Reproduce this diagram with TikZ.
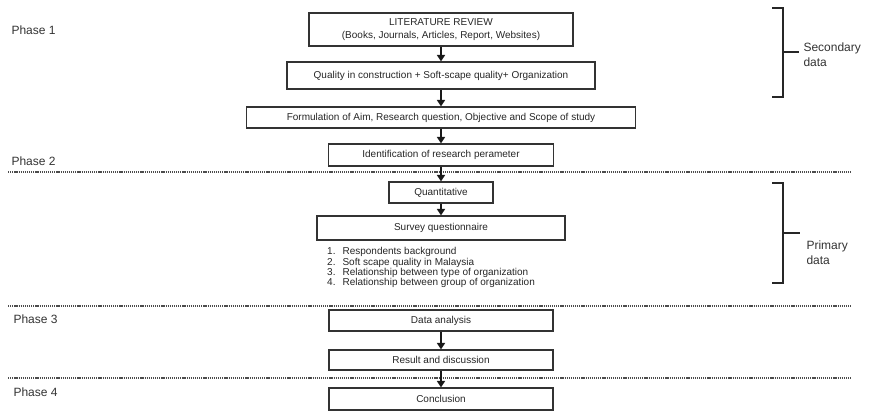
\documentclass[tikz,border=0pt]{standalone}
\usepackage{fontspec}
\setmainfont{Liberation Sans}
\usetikzlibrary{arrows.meta}

\begin{document}
\begin{tikzpicture}[x=1pt,y=-1pt,
    box/.style={draw=black!80, line width=1.2pt, inner sep=0pt, text=black!85,
      font=\fontsize{10}{13}\selectfont, align=center},
    flow/.style={-{Triangle[width=8pt,length=6.5pt]}, line width=1.8pt, black!90},
    phaseline/.style={line width=1.2pt, black!70, dash pattern=on 1.2pt off 0.9pt},
    phase/.style={anchor=west, text=black!80, font=\fontsize{12}{14}\selectfont},
    side/.style={anchor=west, text=black!80, align=left, font=\fontsize{12}{15}\selectfont},
    brace/.style={line width=1.2pt, black!85},
    item/.style={anchor=west, text=black!85, inner sep=0pt, font=\fontsize{10}{12}\selectfont}]
  \useasboundingbox (0,0) rectangle (870,414);

  % phase labels and separators
  \node[phase] (phase1) at (8,30) {Phase 1};
  \node[phase] (phase2) at (8,161) {Phase 2};
  \node[phase] (phase3) at (10,319) {Phase 3};
  \node[phase] (phase4) at (10,392) {Phase 4};
  \draw[phaseline] (8,172) -- (852,172);
  \draw[phaseline] (8,306) -- (852,306);
  \draw[phaseline] (8,378) -- (852,378);

  % boxes
  \node[box, minimum width=264pt, minimum height=33pt] (litreview) at (441,29.5)
    {LITERATURE REVIEW\\(Books, Journals, Articles, Report, Websites)};
  \node[box, minimum width=308pt, minimum height=27pt] (quality) at (441,75.5)
    {Quality in construction + Soft-scape quality+ Organization};
  \node[box, minimum width=389pt, minimum height=21pt] (formulation) at (441,117.5)
    {Formulation of Aim, Research question, Objective and Scope of study};
  \node[box, minimum width=225pt, minimum height=22pt] (ident) at (441,155)
    {Identification of research perameter};
  \node[box, minimum width=104pt, minimum height=21pt] (quant) at (441,192.5)
    {Quantitative};
  \node[box, minimum width=248pt, minimum height=24pt] (survey) at (441,228)
    {Survey questionnaire};
  \node[box, minimum width=224pt, minimum height=21pt] (analysis) at (441,320.5)
    {Data analysis};
  \node[box, minimum width=224pt, minimum height=20pt] (result) at (441,360)
    {Result and discussion};
  \node[box, minimum width=224pt, minimum height=22pt] (conclusion) at (441,399)
    {Conclusion};

  % survey items
  \foreach \i/\t in {1/Respondents background, 2/Soft scape quality in Malaysia,
      3/Relationship between type of organization, 4/Relationship between group of organization}
    \node[item] (item\i) at (327,242+10.3*\i) {\i.\hspace{7pt}\t};

  % arrows
  \draw[flow] (litreview) -- (quality);
  \draw[flow] (quality) -- (formulation);
  \draw[flow] (formulation) -- (ident);
  \draw[flow] (ident) -- (quant);
  \draw[flow] (quant) -- (survey);
  \draw[flow] (analysis) -- (result);
  \draw[flow] (result) -- (conclusion);

  % brackets
  \node[side] (secondary) at (800,55) {Secondary\\data};
  \node[side] (primary) at (803,253) {Primary\\data};
  \coordinate (secmid) at (783,52);
  \coordinate (primid) at (783,233);
  \draw[brace] (772,8) -- (783,8) -- (783,97) -- (772,97);
  \draw[brace] (772,183) -- (783,183) -- (783,283) -- (772,283);
  \draw[brace] (secmid) -- ++(16,0);
  \draw[brace] (primid) -- ++(17,0);
\end{tikzpicture}
\end{document}
